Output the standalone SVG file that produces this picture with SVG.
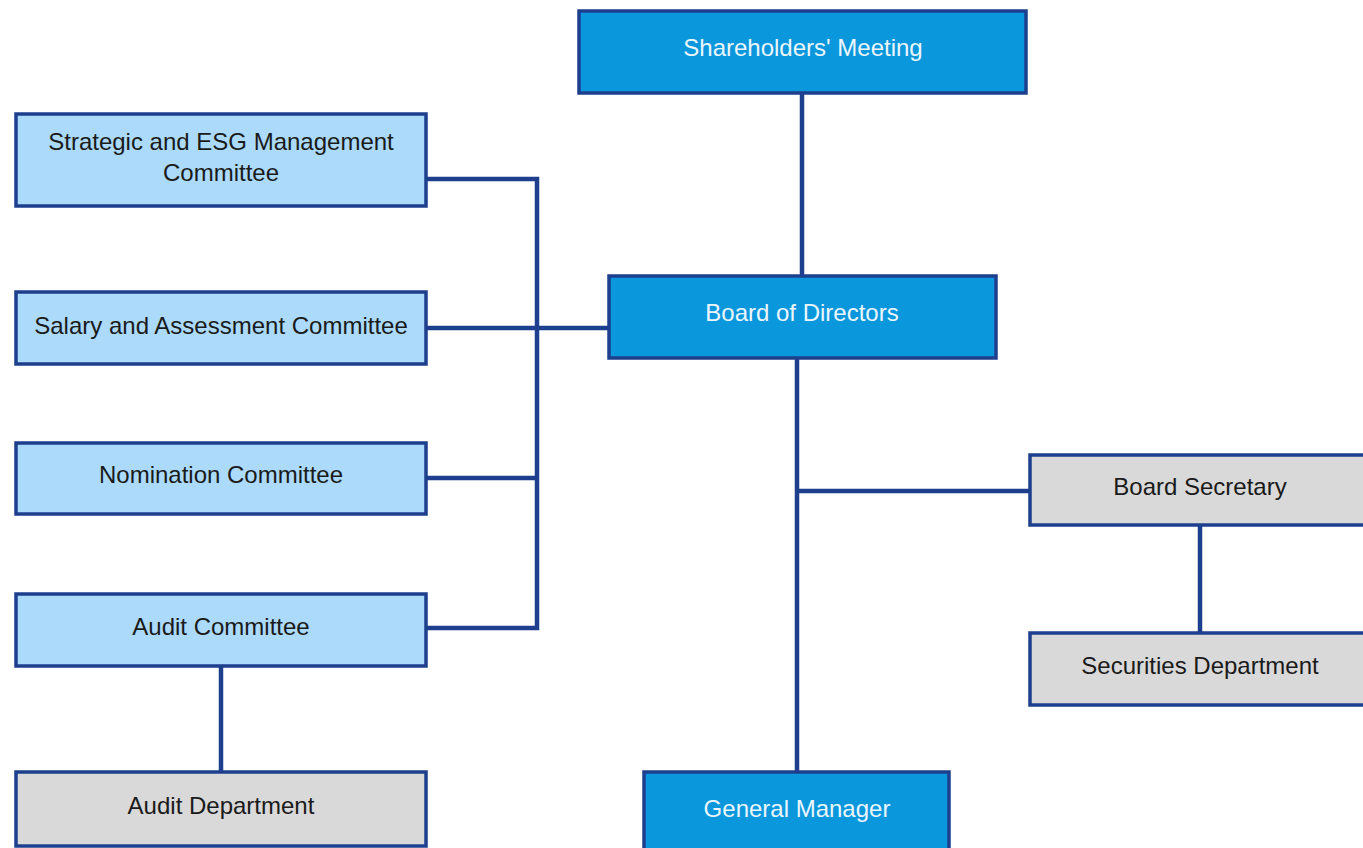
<svg xmlns="http://www.w3.org/2000/svg" width="1363" height="848" viewBox="0 0 1363 848">
<style>
.box{stroke:#1d3f8e;stroke-width:3.5}
.dark{fill:#0b97dc}
.light{fill:#acdafa}
.gray{fill:#d9d9d9}
.t{font-family:"Liberation Sans",Arial,sans-serif;font-size:24px;text-anchor:middle;dominant-baseline:central}
.tw{fill:#eaf6fc}
.tb{fill:#1a1a1a}
.c{stroke:#1d3f8e;stroke-width:4.5;fill:none}
</style>
<rect width="1363" height="848" fill="#ffffff"/>
<g id="connectors">
<line class="c" x1="802" y1="93" x2="802" y2="276"/>
<polyline class="c" points="426,179 537,179 537,628 426,628"/>
<line class="c" x1="426" y1="328" x2="609" y2="328"/>
<line class="c" x1="426" y1="478" x2="537" y2="478"/>
<line class="c" x1="797" y1="358" x2="797" y2="772"/>
<line class="c" x1="797" y1="491" x2="1030" y2="491"/>
<line class="c" x1="1200" y1="525" x2="1200" y2="633"/>
<line class="c" x1="221" y1="666" x2="221" y2="772"/>
</g>
<g id="shareholders">
<rect class="box dark" x="579" y="11" width="447" height="82"/>
<text class="t tw" x="803" y="47">Shareholders' Meeting</text>
</g>
<g id="board">
<rect class="box dark" x="609" y="276" width="387" height="82"/>
<text class="t tw" x="802" y="312">Board of Directors</text>
</g>
<g id="strategic">
<rect class="box light" x="16" y="114" width="410" height="92"/>
<text class="t tb" x="221" y="141">Strategic and ESG Management</text>
<text class="t tb" x="221" y="172">Committee</text>
</g>
<g id="salary">
<rect class="box light" x="16" y="292" width="410" height="72"/>
<text class="t tb" x="221" y="325">Salary and Assessment Committee</text>
</g>
<g id="nomination">
<rect class="box light" x="16" y="443" width="410" height="71"/>
<text class="t tb" x="221" y="474">Nomination Committee</text>
</g>
<g id="audit-committee">
<rect class="box light" x="16" y="594" width="410" height="72"/>
<text class="t tb" x="221" y="626">Audit Committee</text>
</g>
<g id="audit-department">
<rect class="box gray" x="16" y="772" width="410" height="74"/>
<text class="t tb" x="221" y="805">Audit Department</text>
</g>
<g id="board-secretary">
<rect class="box gray" x="1030" y="455" width="340" height="70"/>
<text class="t tb" x="1200" y="486">Board Secretary</text>
</g>
<g id="securities">
<rect class="box gray" x="1030" y="633" width="340" height="72"/>
<text class="t tb" x="1200" y="665">Securities Department</text>
</g>
<g id="general-manager">
<rect class="box dark" x="644" y="772" width="305" height="90"/>
<text class="t tw" x="797" y="808">General Manager</text>
</g>
</svg>
